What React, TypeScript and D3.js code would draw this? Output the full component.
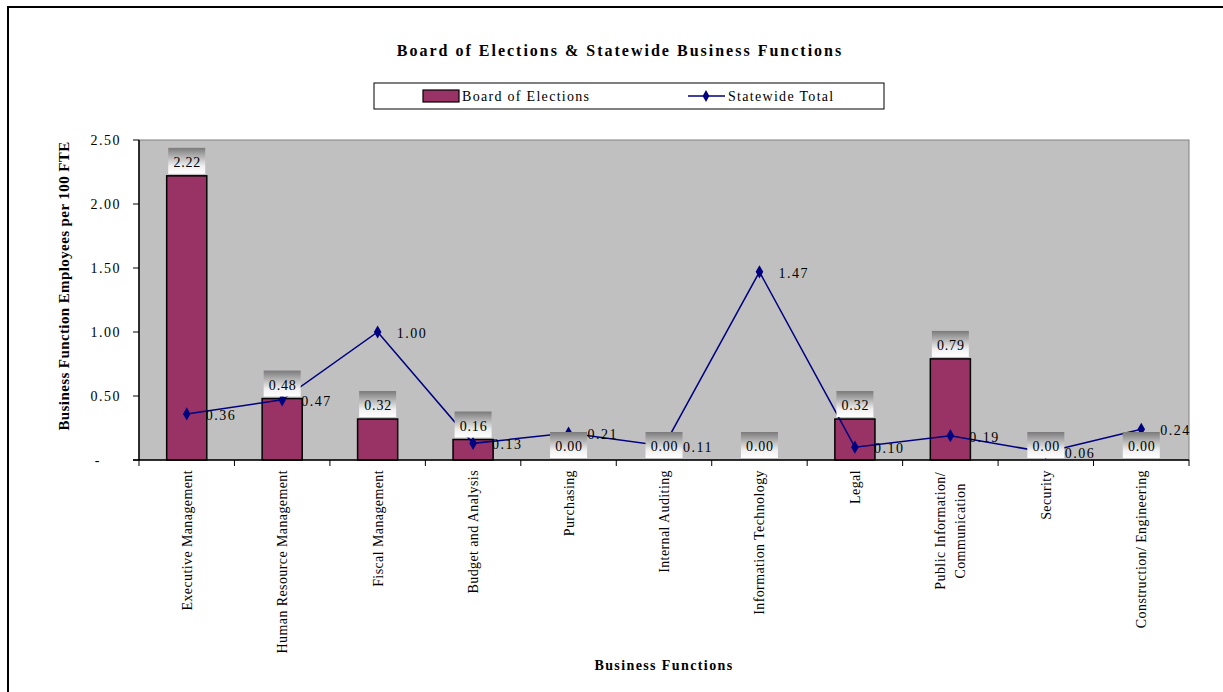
import React, { useEffect, useRef } from "react";
import * as d3 from "d3";

const categories: string[][] = [
  ["Executive Management"],
  ["Human Resource Management"],
  ["Fiscal Management"],
  ["Budget and Analysis"],
  ["Purchasing"],
  ["Internal Auditing"],
  ["Information Technology"],
  ["Legal"],
  ["Public Information/", "Communication"],
  ["Security"],
  ["Construction/ Engineering"],
];
const boardValues = [2.22, 0.48, 0.32, 0.16, 0.0, 0.0, 0.0, 0.32, 0.79, 0.0, 0.0];
const statewideValues = [0.36, 0.47, 1.0, 0.13, 0.21, 0.11, 1.47, 0.1, 0.19, 0.06, 0.24];
const yTicks = [0, 0.5, 1.0, 1.5, 2.0, 2.5];
const seriesNames = ["Board of Elections", "Statewide Total"];
const chartTitle = "Board of Elections & Statewide Business Functions";
const yTitle = "Business Function Employees per 100 FTE";
const xTitle = "Business Functions";

const W = 1223;
const H = 692;
const FONT = "'Liberation Serif', 'Times New Roman', serif";
const BAR = "#993366";
const LINE = "#000080";

export default function App() {
  const ref = useRef<SVGSVGElement | null>(null);

  useEffect(() => {
    const svg = d3.select(ref.current);
    svg.selectAll("*").remove();

    const m = { left: 139, right: 1189, top: 140, bottom: 460 };
    const x = d3
      .scaleBand<number>()
      .domain(categories.map((_, i) => i))
      .range([m.left, m.right])
      .paddingInner(0.58)
      .paddingOuter(0.29);
    const y = d3.scaleLinear().domain([0, 2.5]).range([m.bottom, m.top]);
    const cx = (i: number) => (x(i) as number) + x.bandwidth() / 2;

    const defs = svg.append("defs");
    const grad = defs
      .append("linearGradient")
      .attr("id", "lblgrad")
      .attr("x1", 0)
      .attr("y1", 0)
      .attr("x2", 0)
      .attr("y2", 1);
    grad.append("stop").attr("offset", "0%").attr("stop-color", "#7a7a7a");
    grad.append("stop").attr("offset", "70%").attr("stop-color", "#f0f0f0");
    grad.append("stop").attr("offset", "100%").attr("stop-color", "#ffffff");

    svg.append("rect").attr("x", 0).attr("y", 0).attr("width", W).attr("height", H).attr("fill", "#fff");
    svg
      .append("rect")
      .attr("x", 8)
      .attr("y", 7)
      .attr("width", W + 20)
      .attr("height", H + 20)
      .attr("fill", "none")
      .attr("stroke", "#000")
      .attr("stroke-width", 2);

    // title
    svg
      .append("text")
      .attr("x", 620)
      .attr("y", 56)
      .attr("text-anchor", "middle")
      .attr("font-family", FONT)
      .attr("font-weight", "bold")
      .attr("font-size", 16)
      .attr("letter-spacing", 2)
      .text(chartTitle);

    // legend
    const lg = svg.append("g");
    lg.append("rect")
      .attr("x", 374)
      .attr("y", 83)
      .attr("width", 510)
      .attr("height", 26)
      .attr("fill", "#fff")
      .attr("stroke", "#000")
      .attr("stroke-width", 1);
    lg.append("rect")
      .attr("x", 423)
      .attr("y", 90)
      .attr("width", 36)
      .attr("height", 12)
      .attr("fill", BAR)
      .attr("stroke", "#000")
      .attr("stroke-width", 1.2);
    lg.append("text")
      .attr("x", 462)
      .attr("y", 101)
      .attr("font-family", FONT)
      .attr("font-size", 14)
      .attr("letter-spacing", 1.3)
      .text(seriesNames[0]);
    lg.append("line")
      .attr("x1", 688)
      .attr("x2", 725)
      .attr("y1", 96)
      .attr("y2", 96)
      .attr("stroke", LINE)
      .attr("stroke-width", 1.5);
    lg.append("path")
      .attr("d", d3.symbol(d3.symbolDiamond, 40)())
      .attr("transform", "translate(706,96)")
      .attr("fill", LINE);
    lg.append("text")
      .attr("x", 728)
      .attr("y", 101)
      .attr("font-family", FONT)
      .attr("font-size", 14)
      .attr("letter-spacing", 1.3)
      .text(seriesNames[1]);

    // plot area
    svg
      .append("rect")
      .attr("x", m.left)
      .attr("y", m.top)
      .attr("width", m.right - m.left)
      .attr("height", m.bottom - m.top)
      .attr("fill", "#c0c0c0")
      .attr("stroke", "#808080")
      .attr("stroke-width", 1);

    // y axis
    const ya = svg.append("g");
    ya.append("line")
      .attr("x1", m.left)
      .attr("x2", m.left)
      .attr("y1", m.top)
      .attr("y2", m.bottom)
      .attr("stroke", "#000")
      .attr("stroke-width", 1.5);
    yTicks.forEach((t) => {
      ya.append("line")
        .attr("x1", m.left - 6)
        .attr("x2", m.left)
        .attr("y1", y(t))
        .attr("y2", y(t))
        .attr("stroke", "#000")
        .attr("stroke-width", 1);
      ya.append("text")
        .attr("x", t === 0 ? 101 : 121)
        .attr("y", y(t) + 5)
        .attr("text-anchor", "end")
        .attr("font-family", FONT)
        .attr("font-size", 14)
        .attr("letter-spacing", 1.5)
        .text(t === 0 ? "-" : d3.format(".2f")(t));
    });

    // bars
    svg
      .append("g")
      .selectAll("rect")
      .data(boardValues)
      .join("rect")
      .attr("x", (_, i) => x(i) as number)
      .attr("width", x.bandwidth())
      .attr("y", (d) => y(d))
      .attr("height", (d) => m.bottom - y(d))
      .attr("fill", BAR)
      .attr("stroke", "#000")
      .attr("stroke-width", 1.5);

    // x axis
    const xa = svg.append("g");
    xa.append("line")
      .attr("x1", m.left - 6)
      .attr("x2", m.right)
      .attr("y1", m.bottom)
      .attr("y2", m.bottom)
      .attr("stroke", "#000")
      .attr("stroke-width", 1.5);
    const step = x.step();
    const bounds = d3.range(categories.length + 1).map((i) => m.left + i * step);
    bounds.forEach((b) => {
      xa.append("line")
        .attr("x1", b)
        .attr("x2", b)
        .attr("y1", m.bottom)
        .attr("y2", m.bottom + 6)
        .attr("stroke", "#000")
        .attr("stroke-width", 1);
    });
    categories.forEach((lines, i) => {
      const c = cx(i);
      if (lines.length === 1) {
        xa.append("text")
          .attr("transform", `translate(${c + 5},${m.bottom + 10}) rotate(-90)`)
          .attr("text-anchor", "end")
          .attr("font-family", FONT)
          .attr("font-size", 14)
          .attr("letter-spacing", 0.4)
          .text(lines[0]);
      } else {
        const g = xa.append("g");
        const ts = lines.map((ln) =>
          g
            .append("text")
            .attr("text-anchor", "middle")
            .attr("font-family", FONT)
            .attr("font-size", 14)
            .attr("letter-spacing", 0.4)
            .text(ln)
        );
        const maxLen = d3.max(ts, (t) => (t.node() as SVGTextElement).getComputedTextLength()) || 0;
        const midY = m.bottom + 12 + maxLen / 2;
        ts.forEach((t, k) => {
          const off = (k - (lines.length - 1) / 2) * 20;
          t.attr("transform", `translate(${c + off + 5},${midY}) rotate(-90)`);
        });
      }
    });

    // line and markers (drawn beneath the bar data-label boxes)
    const lineGen = d3
      .line<number>()
      .x((_, i) => cx(i))
      .y((d) => y(d));
    svg
      .append("path")
      .datum(statewideValues)
      .attr("d", lineGen)
      .attr("fill", "none")
      .attr("stroke", LINE)
      .attr("stroke-width", 1.5);
    svg
      .append("g")
      .selectAll("path")
      .data(statewideValues)
      .join("path")
      .attr("d", d3.symbol(d3.symbolDiamond, 50)())
      .attr("transform", (d, i) => `translate(${cx(i)},${y(d)})`)
      .attr("fill", LINE);

    // bar labels
    const bl = svg.append("g");
    boardValues.forEach((v, i) => {
      const c = cx(i);
      const top = y(v) - 2;
      const bw = 37;
      const bh = 26;
      bl.append("rect")
        .attr("x", c - bw / 2)
        .attr("y", top - bh)
        .attr("width", bw)
        .attr("height", bh)
        .attr("fill", "url(#lblgrad)");
      bl.append("text")
        .attr("x", c + 0.5)
        .attr("y", top - bh / 2 + 6)
        .attr("text-anchor", "middle")
        .attr("font-family", FONT)
        .attr("font-size", 14)
        .attr("letter-spacing", 0.8)
        .text(d3.format(".2f")(v));
    });

    // line labels
    svg
      .append("g")
      .selectAll("text")
      .data(statewideValues)
      .join("text")
      .attr("x", (_, i) => cx(i) + 19)
      .attr("y", (d) => y(d) + 6)
      .attr("font-family", FONT)
      .attr("font-size", 14)
      .attr("letter-spacing", 1.5)
      .text((d) => d3.format(".2f")(d));

    // axis titles
    svg
      .append("text")
      .attr("transform", `translate(69,286) rotate(-90)`)
      .attr("text-anchor", "middle")
      .attr("font-family", FONT)
      .attr("font-weight", "bold")
      .attr("font-size", 15)
      .attr("letter-spacing", 0.4)
      .text(yTitle);
    svg
      .append("text")
      .attr("x", 664)
      .attr("y", 670)
      .attr("text-anchor", "middle")
      .attr("font-family", FONT)
      .attr("font-weight", "bold")
      .attr("font-size", 14)
      .attr("letter-spacing", 1.4)
      .text(xTitle);
  }, []);

  return (
    <svg
      ref={ref}
      width={W}
      height={H}
      style={{ position: "absolute", left: 0, top: 0, display: "block" }}
    />
  );
}
